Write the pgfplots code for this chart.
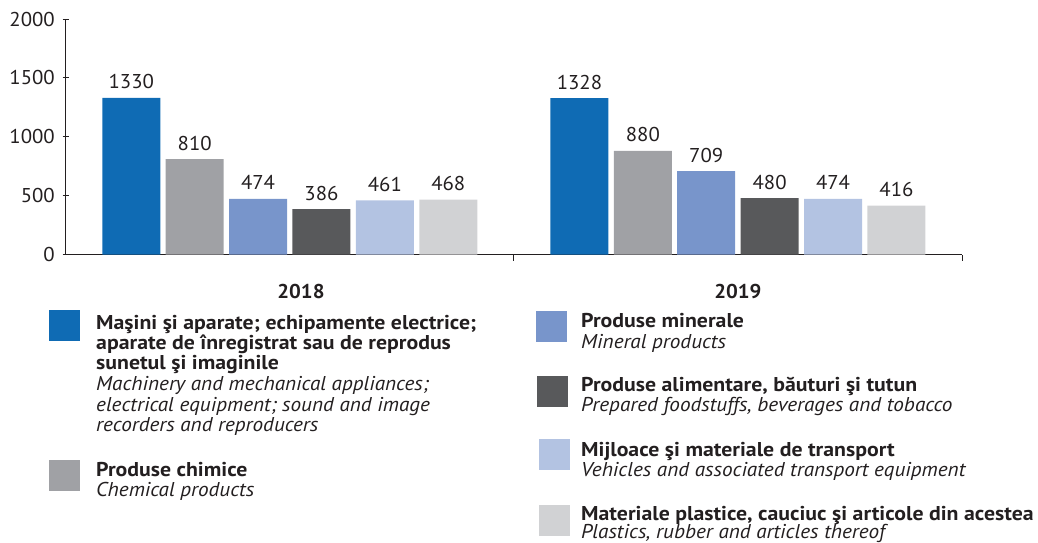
\documentclass[border=0pt]{standalone}
\usepackage{pgfplots}
\pgfplotsset{compat=1.18}
\usepackage{fontspec}
\setmainfont{PT Sans}
\newfontfamily\legb{PT Sans}[FakeStretch=1.09]
\newfontfamily\legi{PT Sans}[FakeStretch=1.06]
\newfontfamily\numf{PT Sans}[FakeStretch=1.04]
\definecolor{cA}{HTML}{0F6BB4}
\definecolor{cB}{HTML}{A0A1A5}
\definecolor{cC}{HTML}{7895CB}
\definecolor{cD}{HTML}{58595B}
\definecolor{cE}{HTML}{B3C3E2}
\definecolor{cF}{HTML}{D1D2D4}
\definecolor{tc}{HTML}{231F20}
\newcommand{\fs}{\fontsize{20}{20}\selectfont}
\newcommand{\B}{\fs\legb\bfseries}
\newcommand{\I}{\fs\legi\itshape}
\begin{document}
\begin{tikzpicture}
\useasboundingbox (0,0) rectangle (1038pt,-542pt);
\begin{axis}[
  at={(65.7pt,-254.7pt)}, anchor=south west,
  scale only axis, width=896.3pt, height=235.7pt,
  xmin=0, xmax=2, ymin=0, ymax=2000,
  axis x line=bottom, axis y line=left,
  axis line style={-, draw=tc, line width=1.1pt},
  tick style={draw=tc, line width=0.9pt},
  tick align=center, major tick length=6pt,
  ytick={0,500,1000,1500,2000},
  xtick={1,2}, xticklabels={,},
  extra x ticks={0.525,1.5},
  extra x tick labels={\textbf{2018},\textbf{2019}},
  extra x tick style={major tick length=0pt,
     xticklabel style={anchor=base, inner sep=0pt, yshift=-43.3pt}},
  /pgf/number format/assume math mode=true,
  ticklabel style={font=\fs\numf, text=tc},
  yticklabel style={anchor=east, inner sep=0pt, xshift=-7.7pt},
  /pgf/number format/1000 sep={},
  ybar=5.4pt, bar width=58pt,
  nodes near coords,
  every node near coord/.append style={font=\fs\numf, text=tc, inner sep=0pt, anchor=base, yshift=9pt},
  clip=false,
]
\addplot[fill=cA, draw=none] coordinates {(0.5,1330) (1.5,1328)};
\addplot[fill=cB, draw=none] coordinates {(0.5,810) (1.5,880)};
\addplot[fill=cC, draw=none] coordinates {(0.5,474) (1.5,709)};
\addplot[fill=cD, draw=none] coordinates {(0.5,386) (1.5,480)};
\addplot[fill=cE, draw=none] coordinates {(0.5,461) (1.5,474)};
\addplot[fill=cF, draw=none] coordinates {(0.5,468) (1.5,416)};
\end{axis}
% legend
\begin{scope}[every node/.style={anchor=base west, inner sep=0pt, text=tc, font=\fs}]
\fill[cA] (49.3pt,-310pt) rectangle ++(30.7pt,-30.7pt);
\node at (96pt,-329.3pt) {\B Maşini şi aparate; echipamente electrice;};
\node at (96pt,-349.6pt) {\B aparate de înregistrat sau de reprodus};
\node at (96pt,-369.9pt) {\B sunetul şi imaginile};
\node at (96pt,-390.7pt) {\I Machinery and mechanical appliances;};
\node at (96pt,-411pt) {\I electrical equipment; sound and image};
\node at (96pt,-431.7pt) {\I recorders and reproducers};
\fill[cB] (49.3pt,-460pt) rectangle ++(30.7pt,-30.7pt);
\node at (96pt,-476.7pt) {\B Produse chimice};
\node at (96pt,-496.5pt) {\I Chemical products};
%
\fill[cC] (536pt,-311pt) rectangle ++(30.7pt,-30.7pt);
\node at (581pt,-327.3pt) {\B Produse minerale};
\node at (581pt,-348.3pt) {\I Mineral products};
\fill[cD] (537pt,-376pt) rectangle ++(30.7pt,-30.7pt);
\node at (581pt,-391.7pt) {\B Produse alimentare, băuturi şi tutun};
\node at (581pt,-411.7pt) {\I Prepared foodstuffs, beverages and tobacco};
\fill[cE] (539pt,-439.3pt) rectangle ++(30.7pt,-30.7pt);
\node at (581pt,-456pt) {\B Mijloace şi materiale de transport};
\node at (581pt,-476pt) {\I Vehicles and associated transport equipment};
\fill[cF] (539pt,-505pt) rectangle ++(30.7pt,-30.7pt);
\node at (581pt,-520pt) {\B Materiale plastice, cauciuc şi articole din acestea};
\node at (581pt,-538.5pt) {\I Plastics, rubber and articles thereof};
\end{scope}
\end{tikzpicture}
\end{document}
